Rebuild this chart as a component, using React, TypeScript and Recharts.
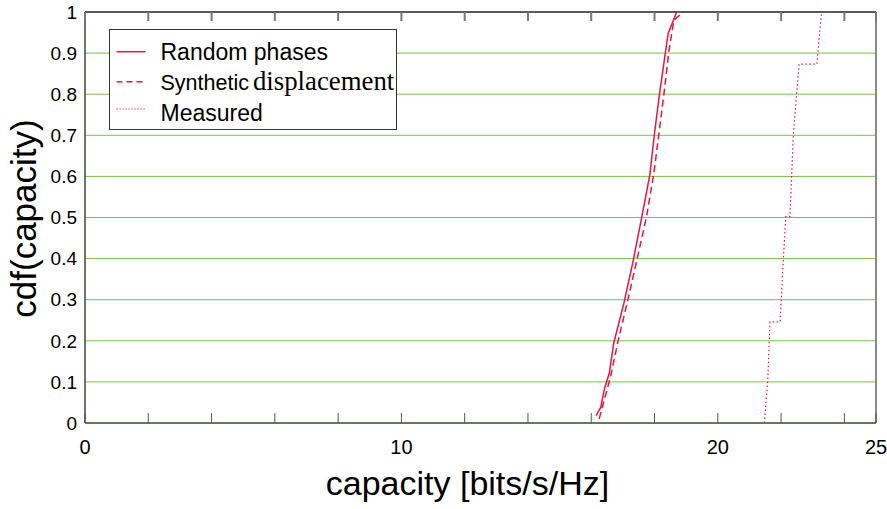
import React from 'react';
import { LineChart, Line, XAxis, YAxis, CartesianGrid, ReferenceLine, Label } from 'recharts';

// ---- data ----
const randomPhases = [
  { x: 16.15, y: 0.018 }, { x: 16.3, y: 0.038 }, { x: 16.42, y: 0.084 }, { x: 16.57, y: 0.121 },
  { x: 16.71, y: 0.194 }, { x: 17.03, y: 0.291 }, { x: 17.31, y: 0.389 }, { x: 17.58, y: 0.494 },
  { x: 17.85, y: 0.603 }, { x: 18.0, y: 0.705 }, { x: 18.16, y: 0.802 }, { x: 18.43, y: 0.948 },
  { x: 18.7, y: 1.0 },
];
const syntheticDisplacement = [
  { x: 16.25, y: 0.01 }, { x: 16.61, y: 0.112 }, { x: 16.85, y: 0.2 }, { x: 17.16, y: 0.3 },
  { x: 17.47, y: 0.406 }, { x: 17.75, y: 0.503 }, { x: 17.98, y: 0.608 }, { x: 18.14, y: 0.705 },
  { x: 18.3, y: 0.802 }, { x: 18.46, y: 0.908 }, { x: 18.61, y: 0.98 }, { x: 18.91, y: 1.0 },
];
const measured = [
  { x: 21.47, y: 0 }, { x: 21.58, y: 0.105 }, { x: 21.65, y: 0.246 }, { x: 21.97, y: 0.246 },
  { x: 22.07, y: 0.397 }, { x: 22.15, y: 0.502 }, { x: 22.28, y: 0.502 }, { x: 22.39, y: 0.705 },
  { x: 22.57, y: 0.873 }, { x: 23.13, y: 0.873 }, { x: 23.28, y: 1.0 },
];
const xTicks = [0, 2, 4, 6, 8, 10, 12, 14, 16, 18, 20, 22, 24, 25];
const xTickLabels = [0, 10, 20, 25];
const yTicks = [0, 0.1, 0.2, 0.3, 0.4, 0.5, 0.6, 0.7, 0.8, 0.9, 1];
const legendLabels = ['Random phases', 'Synthetic', 'displacement', 'Measured'];
const xTitle = 'capacity [bits/s/Hz]';
const yTitle = 'cdf(capacity)';

const RED = '#e3173f';
const SANS = '"Liberation Sans", Arial, Helvetica, sans-serif';
const SERIF = '"Liberation Serif", "Times New Roman", serif';

const BottomTick = (props: any) => {
  const { x, y, payload } = props;
  const v = payload.value;
  const show = xTickLabels.includes(v);
  return (
    <g>
      <line x1={x} y1={y} x2={x} y2={y - 10} stroke="#555" strokeWidth={1} />
      {show && (
        <text x={x} y={y + 31} textAnchor="middle" fontSize={20} fill="#000" fontFamily={SANS}>
          {String(v)}
        </text>
      )}
    </g>
  );
};

const TopTick = (props: any) => {
  const { x, y } = props;
  return <line x1={x} y1={y} x2={x} y2={y + 9} stroke="#777" strokeWidth={2} />;
};

const XTitle = (props: any) => {
  const vb = props.viewBox || { x: 0, y: 0, width: 0 };
  return (
    <text x={vb.x + vb.width / 2 - 13} y={495} textAnchor="middle" fontSize={34} fill="#000" fontFamily={SANS}>
      {xTitle}
    </text>
  );
};

const YTitle = (props: any) => {
  const vb = props.viewBox || { x: 0, y: 0, height: 0 };
  const cy = vb.y + vb.height / 2 + 1;
  return (
    <text x={35.6} y={cy} transform={`rotate(-90, 35.6, ${cy})`} textAnchor="middle" fontSize={35} fill="#000" fontFamily={SANS}>
      {yTitle}
    </text>
  );
};

const LegendBox = () => (
  <div style={{ position: 'absolute', left: 108.5, top: 28.5, width: 288, height: 101 }}>
    <svg width={288} height={101} style={{ display: 'block' }}>
      <rect x={0.5} y={0.5} width={287} height={100} fill="#fff" stroke="#333" strokeWidth={1} />
      <line x1={7.5} x2={36.5} y1={22.7} y2={22.7} stroke={RED} strokeWidth={1.5} />
      <line x1={7.5} x2={36.5} y1={52.7} y2={52.7} stroke={RED} strokeWidth={1.5} strokeDasharray="6 4" />
      <line x1={7.5} x2={36.5} y1={80} y2={80} stroke={RED} strokeWidth={1.2} strokeDasharray="1.2 1.8" />
      <text x={51.5} y={31} fontSize={23} style={{ fontFamily: SANS }} fill="#000">{legendLabels[0]}</text>
      <text x={51.5} y={61} fontSize={21.5} style={{ fontFamily: SANS }} fill="#000">
        {legendLabels[1]}
        <tspan dx={4} fontSize={26.8} style={{ fontFamily: SERIF }}>{legendLabels[2]}</tspan>
      </text>
      <text x={51.5} y={91.5} fontSize={23} style={{ fontFamily: SANS }} fill="#000">{legendLabels[3]}</text>
    </svg>
  </div>
);

export default function App() {
  return (
    <div style={{ position: 'absolute', left: 0, top: 0, width: 887, height: 509, background: '#fff' }}>
      <LineChart width={887} height={509} margin={{ top: 11, right: 11, left: 0, bottom: 0 }} style={{ fontFamily: SANS }}>
        <CartesianGrid vertical={false} stroke="#77c24f" strokeWidth={1} />
        <XAxis
          xAxisId="top"
          orientation="top"
          type="number"
          dataKey="x"
          domain={[0, 25]}
          ticks={xTicks}
          interval={0}
          height={1}
          tickSize={0}
          tickMargin={0}
          tick={<TopTick />}
          tickLine={false}
          axisLine={{ stroke: '#333', strokeWidth: 1.5 }}
          allowDataOverflow
        />
        <XAxis
          type="number"
          dataKey="x"
          domain={[0, 25]}
          ticks={xTicks}
          interval={0}
          height={86}
          tickSize={0}
          tickMargin={0}
          tick={<BottomTick />}
          tickLine={false}
          axisLine={{ stroke: '#3f5f3a', strokeWidth: 1.5 }}
          allowDataOverflow
        >
          <Label content={<XTitle />} />
        </XAxis>
        <YAxis
          type="number"
          domain={[0, 1]}
          ticks={yTicks}
          interval={0}
          width={85}
          tickSize={0}
          tickMargin={8}
          tickLine={false}
          tick={{ fill: '#000', fontSize: 19, fontFamily: SANS }}
          axisLine={{ stroke: '#3a4a3a', strokeWidth: 1.5 }}
        >
          <Label content={<YTitle />} />
        </YAxis>
        <ReferenceLine x={25} stroke="#888" strokeWidth={2} />
        <Line data={randomPhases} dataKey="y" type="linear" stroke={RED} strokeWidth={1.5} dot={false} isAnimationActive={false} />
        <Line data={syntheticDisplacement} dataKey="y" type="linear" stroke={RED} strokeWidth={1.5} strokeDasharray="7 4" dot={false} isAnimationActive={false} />
        <Line data={measured} dataKey="y" type="linear" stroke={RED} strokeWidth={1.2} strokeDasharray="1.5 2.5" dot={false} isAnimationActive={false} />
      </LineChart>
      <LegendBox />
    </div>
  );
}
